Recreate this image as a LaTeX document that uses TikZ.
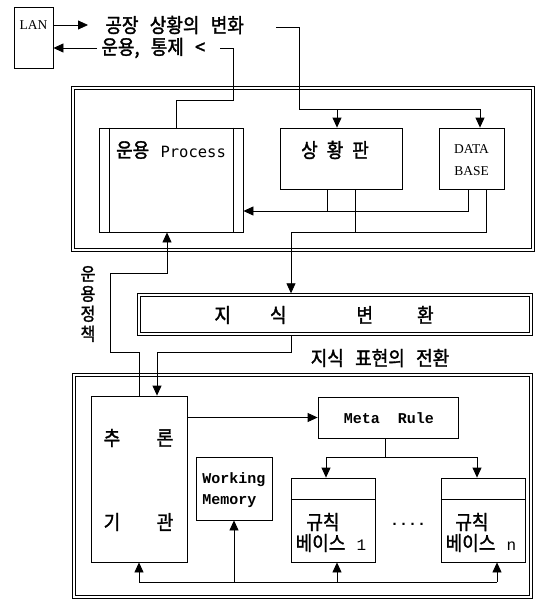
\documentclass[tikz,border=0pt]{standalone}
\usepackage{fontspec}
\setmainfont{Liberation Serif}
\newfontfamily\kr[WordSpace=2.8,FakeStretch=0.9,FakeBold=1.6]{Noto Sans CJK KR}
\newfontfamily\mono{Liberation Mono}
\newfontfamily\smono{DejaVu Sans Mono}
\usetikzlibrary{arrows.meta}
\begin{document}
\begin{tikzpicture}[x=1pt,y=-1pt,line width=0.8pt,
  blk/.style={draw,inner sep=0pt},
  arr/.style={-{Triangle[length=10pt,width=9pt]}},
  kt/.style={font=\kr\fontsize{20}{22}\selectfont,inner sep=0pt},
  mt/.style={font=\mono\bfseries\fontsize{15}{21}\selectfont,inner sep=0pt},
  st/.style={font=\rmfamily\fontsize{13.5}{22}\selectfont,inner sep=0pt}]
\useasboundingbox (0,0) rectangle (539,602);

% ---------- top: LAN ----------
\node[blk,minimum width=39pt,minimum height=61pt] (lan) at (33.5,37.5) {};
\node[st] (lant) at (33.5,25) {LAN};
\node[kt,anchor=west] (t1) at (105,25) {공장 상황의 변화};
\node[kt,anchor=west] (t2) at (101,48) {운용, 통제 <};
\draw[arr] (lan.east |- t1.west) -- ([xshift=-17pt]t1.west);
\draw[arr] ([xshift=-4pt]t2.west) -- (lan.east |- t2.west);

% ---------- upper double frame ----------
\draw[double,double distance=2.2pt] (73,88) rectangle (533,250);
\node[blk,minimum width=144pt,minimum height=104pt] (proc) at (171,180) {};
\draw ([xshift=11pt]proc.north west) -- ([xshift=11pt]proc.south west);
\draw ([xshift=-10pt]proc.north east) -- ([xshift=-10pt]proc.south east);
\node[kt] (proct) at (171,150) {운용 {\smono\fontsize{15.5}{18}\selectfont Process}};
\node[blk,minimum width=122pt,minimum height=61pt] (sit) at (341,158.5) {};
\node[kt] (sitt) at (335,150) {상\hspace{9pt}황\hspace{9pt}판};
\node[blk,minimum width=65pt,minimum height=61pt] (db) at (471.5,158.5) {};
\node[st,align=center] (dbt) at (471.5,160) {DATA\\BASE};

% line 1 : factory changes -> situation board, database
\coordinate (c1) at (276,27);
\coordinate (j1) at (299,109);
\coordinate (j2) at (337,109);
\draw (c1) -| (j1);
\draw[arr] (j1) -| ([xshift=8.5pt]db.north);
\draw[arr] (j2) -- (j2 |- sit.north);

% line 2 : process -> operation/control
\coordinate (c2) at (220,48);
\coordinate (c3) at (233,100);
\draw (c2) -| (c3) -| ([xshift=5pt]proc.north);

% inside upper frame
\coordinate (y1) at (300,211);
\coordinate (y2) at (300,232);
\coordinate (k1) at (291,232);
\draw[arr] ([xshift=-3.5pt]db.south) |- (proc.east |- y1);
\draw ([xshift=-14pt]sit.south) -- ([xshift=-14pt]sit.south |- y1);
\draw ([xshift=14.5pt]db.south) |- (k1);
\draw ([xshift=14pt]sit.south) -- ([xshift=14pt]sit.south |- y2);

% ---------- knowledge conversion ----------
\node[draw,double,double distance=1.8pt,inner sep=0pt,outer sep=1.7pt,
      minimum width=392pt,minimum height=39pt] (know) at (335,314.5) {};
\node[kt,anchor=west] (knowt) at (214,315) {지\hspace{39pt}식\hspace{70pt}변\hspace{44pt}환};
\draw[arr] (k1) -- (k1 |- know.north);
\node[kt,font=\kr\fontsize{18}{20}\selectfont,align=center] (pol) at (88,304) {운\\용\\정\\책};
\node[kt] (conv) at (380,358) {지식 표현의 전환};

% ---------- lower double frame ----------
\draw[double,double distance=2.2pt] (74,375) rectangle (531,597);
\node[blk,minimum width=96pt,minimum height=166pt] (inf) at (139,479) {};
\node[kt] (i1) at (112,438) {추};
\node[kt] (i2) at (165,438) {론};
\node[kt] (i3) at (112,522) {기};
\node[kt] (i4) at (165,522) {관};
\node[blk,minimum width=140pt,minimum height=41pt] (meta) at (388,417.5) {};
\node[mt] (metat) at (389,418) {Meta~~Rule};
\node[blk,minimum width=76pt,minimum height=63pt] (wm) at (234,488.5) {};
\node[mt,align=left] (wmt) at (234,490) {Working\\Memory};
\node[blk,minimum width=84pt,minimum height=84pt] (rb1) at (333,520) {};
\draw ([yshift=-22pt]rb1.north west) -- ([yshift=-22pt]rb1.north east);
\node[kt] (r1a) at (323,522) {규칙};
\node[kt] (r1b) at (331,543) {베이스 {\mono\fontsize{16}{18}\selectfont 1}};
\node[blk,minimum width=84pt,minimum height=84pt] (rbn) at (483,520) {};
\draw ([yshift=-22pt]rbn.north west) -- ([yshift=-22pt]rbn.north east);
\node[kt] (rna) at (472,522) {규칙};
\node[kt] (rnb) at (481,543) {베이스 {\mono\fontsize{16}{18}\selectfont n}};
\node[mt] (dots) at (408,524) {....};

% policy line : inference -> process
\coordinate (p1) at (110,273);
\coordinate (p2) at (110,352);
\draw[arr] (inf.north) |- (p2) -- (p1) -| ([xshift=-4pt]proc.south);
% representation line : knowledge -> inference
\coordinate (q1) at (157,352);
\draw[arr] (k1 |- know.south) |- (q1) -- (q1 |- inf.north);

% inside lower frame
\draw[arr] (inf.east |- meta.west) -- (meta.west);
\coordinate (m1) at (385,457);
\coordinate (ml) at (326,457);
\coordinate (mr) at (477,457);
\draw (meta.south -| m1) -- (m1);
\draw (ml) -- (mr);
\draw[arr] (ml) -- (ml |- rb1.north);
\draw[arr] (mr) -- (mr |- rbn.north);
\coordinate (b0) at (139,582);
\coordinate (b1) at (497,582);
\draw (b0) -- (b1);
\draw[arr] (b0) -- (inf.south);
\draw[arr] (wm.south |- b0) -- (wm.south);
\draw[arr] ([xshift=4pt]rb1.south |- b0) -- ([xshift=4pt]rb1.south);
\draw[arr] ([xshift=14pt]rbn.south |- b0) -- ([xshift=14pt]rbn.south);
\end{tikzpicture}
\end{document}
